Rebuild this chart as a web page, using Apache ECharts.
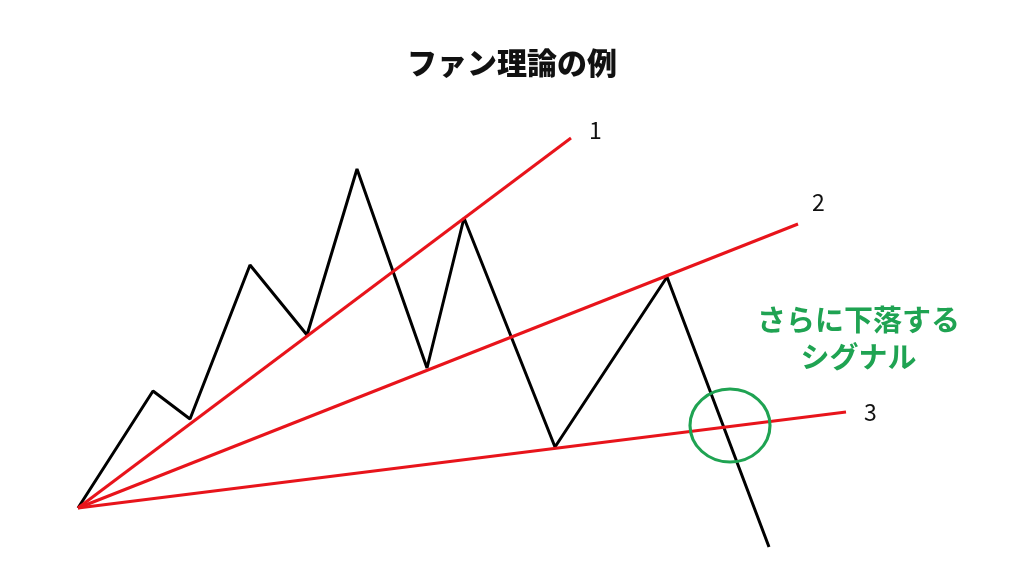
<!DOCTYPE html>
<html>
<head>
<meta charset="utf-8">
<script src="https://cdn.jsdelivr.net/npm/echarts@6/dist/echarts.min.js"></script>
<style>
  html, body { margin: 0; padding: 0; background: #fff; }
  #chart { width: 1024px; height: 576px; }
</style>
</head>
<body>
<div id="chart"></div>
<script>
// zigzag price path (time, price) – origin is where the fan lines start
let priceX = [0, 75, 112, 172, 229, 279, 349, 386, 477, 589, 691];
let priceY = [0, 117, 89, 243, 173, 339, 140, 290, 61, 231, -39];

// fan lines: all start at origin
let fanNames = ['1', '2', '3'];
let fanEndX = [493, 720, 768];
let fanEndY = [370, 284, 96];

// breakout marker
let signalPoint = [652, 82.5];
let signalText = ['さらに下落する', 'シグナル'];

let chartDom = document.getElementById('chart');
let chart = echarts.init(chartDom);

let jpFont = '"Noto Sans CJK JP", "Noto Sans", sans-serif';

let fanSeries = fanNames.map((name, i) => ({
	name: 'fan' + name,
	type: 'line',
	data: [[0, 0], [fanEndX[i], fanEndY[i]]],
	showSymbol: false,
	silent: true,
	lineStyle: { color: '#e8141b', width: 3 },
	endLabel: {
		show: true,
		formatter: name,
		color: '#111',
		fontSize: 23,
		fontFamily: jpFont,
		offset: [[10, -8], [6, -22], [10, 0]][i]
	},
	z: 3
}));

let option = {
	animation: false,
	backgroundColor: '#fff',
	title: {
		text: 'ファン理論の例',
		left: 'center',
		top: 43,
		textStyle: { fontSize: 30, fontWeight: 900, color: '#111', fontFamily: jpFont }
	},
	grid: { left: 0, right: 0, top: 0, bottom: 0 },
	xAxis: { type: 'value', min: -78, max: 946, show: false },
	yAxis: { type: 'value', min: -68, max: 508, show: false },
	graphic: [{
		type: 'text',
		left: 757,
		top: 301,
		style: {
			text: signalText.join('\n'),
			fill: '#1fa352',
			font: 'bold 29px ' + jpFont,
			lineHeight: 37,
			textAlign: 'center'
		}
	}],
	series: [
		{
			name: 'price',
			type: 'line',
			data: priceX.map((x, i) => [x, priceY[i]]),
			showSymbol: false,
			silent: true,
			lineStyle: { color: '#000', width: 3 },
			z: 2
		},
		...fanSeries,
		{
			name: 'signal',
			type: 'scatter',
			data: [signalPoint],
			symbol: 'circle',
			symbolSize: [80, 73],
			silent: true,
			itemStyle: { color: 'rgba(0,0,0,0)', borderColor: '#1fa352', borderWidth: 3, opacity: 1 },
			z: 4
		}
	]
};
chart.setOption(option);
</script>
</body>
</html>
